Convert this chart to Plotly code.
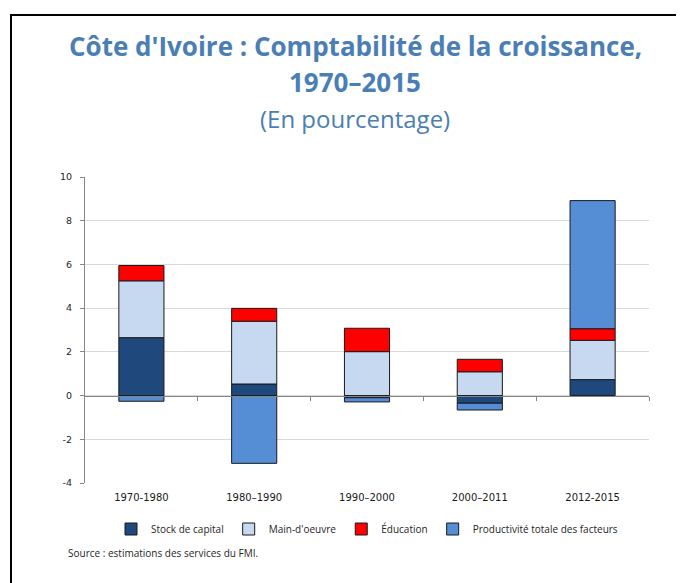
import plotly.graph_objects as go

periods = ["1970-1980", "1980\u20131990", "1990\u20132000", "2000\u20132011", "2012-2015"]
capital = [2.65, 0.53, -0.10, -0.35, 0.73]
main_oeuvre = [2.60, 2.87, 2.01, 1.09, 1.80]
education = [0.70, 0.59, 1.07, 0.57, 0.53]
ptf = [-0.26, -3.10, -0.19, -0.31, 5.86]

y_tickvals = [-4, -2, 0, 2, 4, 6, 8, 10]
y_ticktext = ["-4", "-2", "0", "2", "4", "6", "8", "10"]

series_names = ["Stock de capital", "Main-d'oeuvre", "\u00c9ducation", "Productivit\u00e9 totale des facteurs"]
series_values = [capital, main_oeuvre, education, ptf]
series_colors = ["#1F497D", "#C6D9F1", "#FF0000", "#558ED5"]

# page body offset (default 8px margin)
OX, OY = 8, 8
W, H = 684, 583
# target screen positions of plot area
SL, SR, ST, SB = 85, 649, 177, 483
L, T = SL - OX, ST - OY
R = W - (SR - OX)
B = H - (SB - OY)
pw, ph = W - L - R, H - T - B

def px(x):
    return (x - OX - L) / pw

def py(y):
    return (H - B - (y - OY)) / ph

fig = go.Figure()
for name, vals, col in zip(series_names, series_values, series_colors):
    fig.add_trace(go.Bar(
        x=periods, y=vals, name=name,
        marker=dict(color=col, line=dict(color="#1A1A1A", width=1)),
    ))

title_col = "#4A7EB5"
fig.update_layout(
    width=W, height=H,
    margin=dict(l=L, r=R, t=T, b=B),
    barmode="relative",
    bargap=0.6,
    plot_bgcolor="white",
    paper_bgcolor="white",
    showlegend=True,
    legend=dict(
        orientation="h", x=px(367), xanchor="center", y=py(529), yanchor="middle",
        font=dict(family="Open Sans", size=10, color="#262626"),
        itemwidth=30, tracegroupgap=0,
    ),
    xaxis=dict(
        type="category", showline=False, ticks="", showgrid=False,
        ticklabelstandoff=7,
        tickfont=dict(family="DejaVu Sans", size=10, color="#1A1A1A"),
    ),
    xaxis2=dict(
        overlaying="x", anchor="free", position=4 / 14, range=[-0.5, 4.5],
        tickvals=[0.5, 1.5, 2.5, 3.5, 4.5], showticklabels=False,
        ticks="outside", ticklen=4, tickcolor="#868686", showline=True,
        linecolor="#868686", linewidth=1, showgrid=False, zeroline=False,
    ),
    yaxis=dict(
        range=[-4, 10], tickvals=y_tickvals, ticktext=y_ticktext,
        showgrid=True, gridcolor="#D9D9D9",
        zeroline=False, showline=True, linecolor="#868686", ticks="outside",
        ticklen=4, tickcolor="#868686", ticklabelstandoff=6,
        tickfont=dict(family="DejaVu Sans", size=9.5, color="#262626"),
    ),
)

fig.add_trace(go.Scatter(x=[None], y=[None], xaxis="x2", showlegend=False, hoverinfo="skip"))

fig.add_annotation(text="<b>C\u00f4te d'Ivoire : Comptabilit\u00e9 de la croissance,</b>",
                   xref="paper", yref="paper", x=px(355), y=py(46), showarrow=False,
                   xanchor="center", yanchor="middle",
                   font=dict(family="Open Sans", size=26, color=title_col))
fig.add_annotation(text="<b>1970\u20132015</b>",
                   xref="paper", yref="paper", x=px(355), y=py(82), showarrow=False,
                   xanchor="center", yanchor="middle",
                   font=dict(family="Open Sans", size=26, color=title_col))
fig.add_annotation(text="(En pourcentage)",
                   xref="paper", yref="paper", x=px(355), y=py(118), showarrow=False,
                   xanchor="center", yanchor="middle",
                   font=dict(family="Open Sans", size=24, color=title_col))
fig.add_annotation(text="Source : estimations des services du FMI.",
                   xref="paper", yref="paper", x=px(66), y=py(553), showarrow=False,
                   xanchor="left", yanchor="middle",
                   font=dict(family="Open Sans", size=10, color="#262626"))

fig.add_shape(type="rect", xref="paper", yref="paper",
              x0=px(11), x1=px(720), y0=py(15), y1=py(620),
              line=dict(color="black", width=2), fillcolor="rgba(0,0,0,0)", layer="above")

fig.write_html("out.html")
